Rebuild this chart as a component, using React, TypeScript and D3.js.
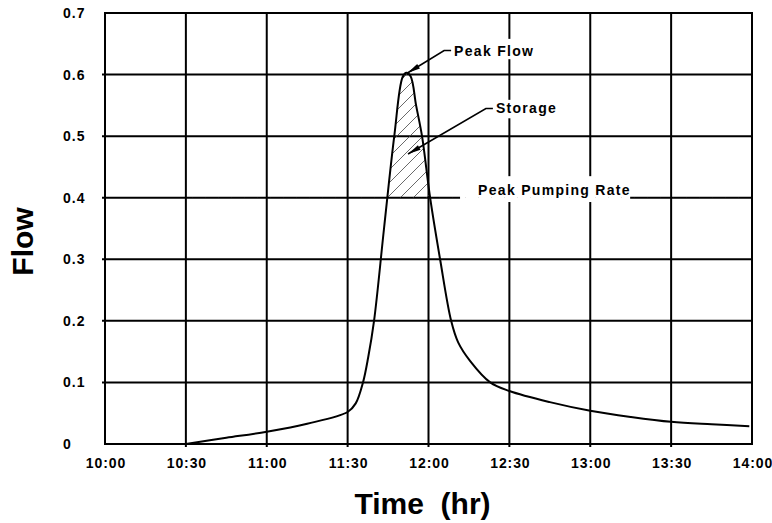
import React from "react";
import * as d3 from "d3";

// time in minutes after 10:00, flow values
const minutes = [30, 45, 60, 75, 90, 93, 95.7, 97.6, 99.8, 103.5, 107.3, 110.4, 111.8, 113.4, 115.4, 117.6, 120.6, 124.3, 128.4, 131, 135.4, 142.9, 150, 165, 180, 195, 210, 225, 239];
const flow = [0, 0.01, 0.02, 0.033, 0.052, 0.066, 0.1, 0.14, 0.2, 0.35, 0.5, 0.596, 0.603, 0.597, 0.55, 0.5, 0.4, 0.3, 0.2, 0.165, 0.135, 0.1, 0.086, 0.068, 0.054, 0.044, 0.036, 0.032, 0.029];

const xTickValues = [0, 30, 60, 90, 120, 150, 180, 210, 240];
const xTickLabels = ["10:00", "10:30", "11:00", "11:30", "12:00", "12:30", "13:00", "13:30", "14:00"];
const yTickValues = [0, 0.1, 0.2, 0.3, 0.4, 0.5, 0.6, 0.7];
const yTickLabels = ["0", "0.1", "0.2", "0.3", "0.4", "0.5", "0.6", "0.7"];

const pumpingRate = 0.4;

// annotations in data units: text anchor (minutes, flow), arrow tip, label background box
const annLabels = ["Peak Flow", "Storage", "Peak Pumping Rate"];
const annTextX = [129.5, 145, 138.4];
const annTextY = [0.639, 0.545, 0.412];
const annTipX = [112.2, 112.4, NaN];
const annTipY = [0.6025, 0.471, NaN];
const annBoxX0 = [127.4, 142.4, 131.7];
const annBoxX1 = [160.6, 167.3, 194.8];
const annBoxY0 = [0.625, 0.529, 0.393];
const annBoxY1 = [0.658, 0.559, 0.435];

const W = 772;
const H = 523;
const FONT = "'Liberation Sans', Arial, Helvetica, sans-serif";

export default function App() {
  const x = d3.scaleLinear().domain([0, 240]).range([105, 752]);
  const y = d3.scaleLinear().domain([0, 0.7]).range([444, 13]);

  const pts: [number, number][] = minutes.map((m, i) => [m, flow[i]]);
  const line = d3
    .line<[number, number]>()
    .x((d) => x(d[0]))
    .y((d) => y(d[1]))
    .curve(d3.curveCatmullRom.alpha(0.5));
  const area = d3
    .area<[number, number]>()
    .x((d) => x(d[0]))
    .y0(y(pumpingRate))
    .y1((d) => y(d[1]))
    .curve(d3.curveCatmullRom.alpha(0.5));

  const [x0, x1] = x.range();
  const [yb, yt] = y.range();

  const arrowHead = (tip: [number, number], from: [number, number], len = 13, half = 2.6) => {
    const dx = tip[0] - from[0];
    const dy = tip[1] - from[1];
    const L = Math.hypot(dx, dy);
    const ux = dx / L;
    const uy = dy / L;
    const bx = tip[0] - ux * len;
    const by = tip[1] - uy * len;
    return `${tip[0]},${tip[1]} ${bx - uy * half},${by + ux * half} ${bx + uy * half},${by - ux * half}`;
  };

  return (
    <svg
      width={W}
      height={H}
      style={{ position: "absolute", left: 0, top: 0, background: "#fff" }}
      fontFamily={FONT}
    >
      <defs>
        <pattern id="hatch" patternUnits="userSpaceOnUse" width="13" height="13">
          <path d="M-1,14 L14,-1 M-4,4 L4,-4 M9,17 L17,9" stroke="#444" strokeWidth="0.8" />
        </pattern>
        <clipPath id="above">
          <rect x={x0} y={yt} width={x1 - x0} height={y(pumpingRate) - yt} />
        </clipPath>
      </defs>
      <rect width={W} height={H} fill="#fff" />

      {/* horizontal grid lines */}
      {yTickValues.slice(1, -1).map((v) => (
        <line key={"h" + v} x1={x0 - 3} x2={x1} y1={y(v)} y2={y(v)} stroke="#000" strokeWidth={2} />
      ))}
      {/* vertical grid lines */}
      {xTickValues.slice(1, -1).map((v) => (
        <line key={"v" + v} x1={x(v)} x2={x(v)} y1={yt} y2={yb + 3} stroke="#000" strokeWidth={2} />
      ))}

      {/* label background boxes */}
      {annLabels.map((l, i) => (
        <rect
          key={"bg" + i}
          x={x(annBoxX0[i])}
          y={y(annBoxY1[i])}
          width={x(annBoxX1[i]) - x(annBoxX0[i])}
          height={y(annBoxY0[i]) - y(annBoxY1[i])}
          fill="#fff"
        />
      ))}

      {/* storage hatch */}
      <path d={area(pts) || ""} fill="url(#hatch)" clipPath="url(#above)" />

      {/* hydrograph */}
      <path d={line(pts) || ""} fill="none" stroke="#000" strokeWidth={2} strokeLinejoin="round" />

      {/* plot frame */}
      <rect x={x0} y={yt} width={x1 - x0} height={yb - yt} fill="none" stroke="#000" strokeWidth={2} />

      {/* annotations */}
      {annLabels.map((l, i) => {
        const tx = x(annTextX[i]);
        const ty = y(annTextY[i]);
        const hasArrow = !isNaN(annTipX[i]);
        const tip: [number, number] = [x(annTipX[i]), y(annTipY[i])];
        const knee: [number, number] = [tx - 10, ty];
        return (
          <g key={"ann" + i}>
            {hasArrow && (
              <>
                <path
                  d={`M${tx - 3},${ty} L${knee[0]},${knee[1]} L${tip[0]},${tip[1]}`}
                  fill="none"
                  stroke="#000"
                  strokeWidth={1.6}
                />
                <polygon points={arrowHead(tip, knee)} fill="#000" />
              </>
            )}
            <text x={tx} y={ty} dy="0.36em" fontSize={14} fontWeight="bold" letterSpacing={1.3} fill="#000" style={{ whiteSpace: "pre" }}>
              {l}
            </text>
          </g>
        );
      })}

      {/* y tick labels */}
      {yTickValues.map((v, i) => (
        <text key={"yt" + v} x={63} y={y(v)} dy="0.36em" fontSize={14} fontWeight="bold" letterSpacing={1} fill="#000">
          {yTickLabels[i]}
        </text>
      ))}
      {/* x tick labels */}
      {xTickValues.map((v, i) => (
        <text key={"xt" + v} x={x(v) + 1} y={468} textAnchor="middle" fontSize={14} fontWeight="bold" letterSpacing={0.9} fill="#000">
          {xTickLabels[i]}
        </text>
      ))}

      {/* axis titles */}
      <text
        x={(x0 + x1) / 2 - 6}
        y={514}
        textAnchor="middle"
        fontSize={30}
        fontWeight="bold"
        fill="#000"
        style={{ whiteSpace: "pre" }}
      >
        {"Time  (hr)"}
      </text>
      <text
        transform={`translate(33,${(yb + yt) / 2 + 13}) rotate(-90)`}
        textAnchor="middle"
        fontSize={30}
        fontWeight="bold"
        fill="#000"
      >
        Flow
      </text>
    </svg>
  );
}
